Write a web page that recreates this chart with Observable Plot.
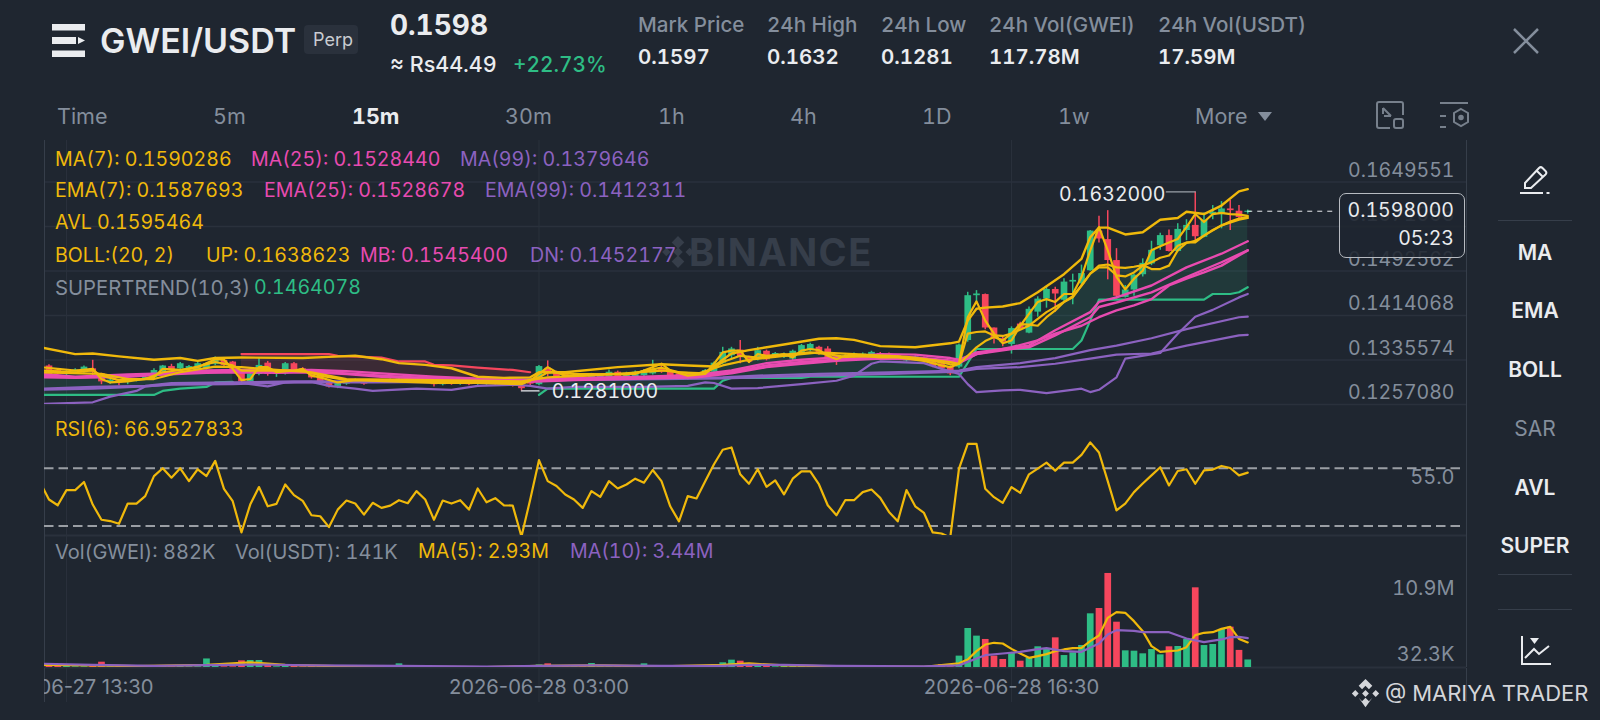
<!DOCTYPE html>
<html><head><meta charset="utf-8">
<script src="https://cdn.jsdelivr.net/npm/d3@7"></script>
<script src="https://cdn.jsdelivr.net/npm/@observablehq/plot@0.6"></script>
<style>
html,body{margin:0;padding:0;background:#1f2630;}
#app{position:relative;width:1600px;height:720px;overflow:hidden;background:#1f2630;font-family:Inter,"Noto Sans",sans-serif;font-variant-numeric:tabular-nums;}
#app>.t{position:absolute;white-space:nowrap;transform:translateY(-50%);line-height:1;}
#app>svg,#app>figure{position:absolute;margin:0;}
</style></head><body><div id="app"></div>
<script>
// ---- candles, index k = -111 … 27 (15m bars, k = 0 is 2026-06-28 16:30)
const opens=[.1323,.1325,.1317,.1310,.1314,.1314,.1320,.1311,.1296,.1299,
.1296,.1299,.1303,.1304,.1314,.1324,.1320,.1320,.1318,.1320,
.1328,.1335,.1332,.1317,.1297,.1310,.1330,.1310,.1311,.1329,
.1320,.1314,.1304,.1296,.1289,.1293,.1298,.1297,.1297,.1297,
.1296,.1299,.1302,.1297,.1297,.1296,.1292,.1296,.1293,.1296,
.1293,.1293,.1296,.1293,.1296,.1290,.1302,.1292,.1321,.1314,
.1311,.1302,.1305,.1304,.1304,.1305,.1314,.1305,.1305,.1308,
.1311,.1320,.1317,.1311,.1308,.1304,.1306,.1314,.1330,.1343,
.1353,.1340,.1337,.1351,.1340,.1340,.1337,.1346,.1352,.1358,
.1355,.1341,.1336,.1340,.1341,.1343,.1347,.1346,.1343,.1334,
.1336,.1339,.1332,.1329,.1323,.1323,.1370,.1449,.1451,.1392,
.1373,.1363,.1399,.1383,.1420,.1443,.1460,.1441,.1473,.1470,
.1493,.1563,.1548,.1511,.1446,.1459,.1486,.1505,.1537,.1555,
.1527,.1564,.1573,.1552,.1592,.1592,.1602,.1598,.1596];
const closes=[.1311,.1308,.1311,.1314,.1318,.1323,.1314,.1297,.1300,.1295,
.1300,.1302,.1305,.1317,.1325,.1317,.1329,.1324,.1329,.1329,
.1337,.1326,.1317,.1297,.1311,.1326,.1310,.1314,.1329,.1317,
.1314,.1304,.1296,.1288,.1295,.1297,.1300,.1293,.1300,.1300,
.1300,.1302,.1299,.1300,.1302,.1292,.1296,.1293,.1296,.1292,
.1296,.1297,.1293,.1296,.1290,.1285,.1293,.1324,.1311,.1305,
.1304,.1306,.1301,.1308,.1308,.1314,.1306,.1312,.1314,.1317,
.1319,.1314,.1308,.1305,.1302,.1308,.1317,.1330,.1349,.1355,
.1340,.1332,.1352,.1336,.1347,.1346,.1351,.1361,.1363,.1346,
.1337,.1335,.1343,.1346,.1346,.1349,.1341,.1341,.1339,.1337,
.1341,.1334,.1324,.1320,.1311,.1362,.1449,.1452,.1392,.1373,
.1367,.1391,.1391,.1425,.1443,.1460,.1452,.1473,.1476,.1488,
.1563,.1549,.1511,.1448,.1459,.1485,.1506,.1529,.1555,.1527,
.1566,.1573,.1553,.1582,.1596,.1602,.1599,.1587,.1598];
const highs=[.1325,.1327,.1319,.1317,.1320,.1325,.1335,.1312,.1301,.1300,
.1301,.1303,.1306,.1320,.1326,.1328,.1331,.1326,.1331,.1331,
.1341,.1337,.1333,.1318,.1313,.1339,.1333,.1316,.1331,.1331,
.1322,.1316,.1305,.1297,.1296,.1298,.1302,.1299,.1301,.1301,
.1302,.1303,.1303,.1301,.1303,.1297,.1297,.1297,.1297,.1297,
.1297,.1298,.1297,.1297,.1297,.1291,.1305,.1326,.1334,.1316,
.1313,.1307,.1306,.1312,.1310,.1318,.1316,.1314,.1316,.1319,
.1335,.1329,.1319,.1313,.1310,.1310,.1319,.1332,.1358,.1358,
.1370,.1342,.1358,.1353,.1349,.1348,.1353,.1363,.1365,.1360,
.1359,.1343,.1345,.1348,.1348,.1351,.1349,.1348,.1345,.1339,
.1343,.1341,.1333,.1330,.1325,.1364,.1455,.1458,.1452,.1392,
.1376,.1394,.1402,.1429,.1447,.1464,.1464,.1479,.1487,.1503,
.1564,.1589,.1599,.1532,.1467,.1487,.1514,.1545,.1559,.1565,
.1576,.1583,.1632,.1595,.1608,.1615,.1617,.1608,.1600];
const lows=[.1308,.1306,.1309,.1308,.1312,.1312,.1308,.1292,.1293,.1290,
.1292,.1297,.1301,.1302,.1312,.1315,.1318,.1318,.1316,.1318,
.1326,.1324,.1315,.1295,.1295,.1308,.1307,.1305,.1309,.1315,
.1312,.1302,.1294,.1286,.1285,.1291,.1296,.1291,.1295,.1295,
.1294,.1297,.1297,.1295,.1295,.1288,.1290,.1291,.1291,.1290,
.1291,.1291,.1291,.1291,.1288,.1281,.1290,.1290,.1306,.1303,
.1302,.1300,.1299,.1302,.1302,.1303,.1304,.1303,.1303,.1306,
.1309,.1312,.1306,.1303,.1300,.1302,.1304,.1312,.1328,.1337,
.1329,.1330,.1334,.1334,.1338,.1338,.1334,.1344,.1350,.1344,
.1335,.1326,.1334,.1338,.1339,.1341,.1339,.1339,.1337,.1332,
.1334,.1332,.1322,.1318,.1308,.1320,.1367,.1435,.1389,.1364,
.1359,.1346,.1388,.1382,.1411,.1427,.1420,.1438,.1433,.1467,
.1492,.1542,.1477,.1443,.1445,.1448,.1482,.1502,.1529,.1526,
.1526,.1546,.1546,.1551,.1583,.1567,.1564,.1582,.1593];
const volumes=[.3,.47,.27,.23,.08,.08,.2,.62,.08,.23,
.08,.08,.08,.12,.12,.08,.12,.08,.08,1.0,
.2,.08,.08,.78,.82,.82,.23,.08,.23,.35,
.08,.15,.08,.15,.08,.08,.08,.15,.08,.08,
.08,.43,.08,.08,.08,.08,.06,.06,.06,.06,
.06,.06,.06,.06,.06,.06,.06,.3,.43,.08,
.08,.08,.08,.47,.08,.08,.08,.08,.08,.43,
.08,.12,.08,.08,.08,.08,.08,.08,.55,.86,
.74,.23,.31,.35,.08,.23,.23,.23,.08,.2,
.16,.2,.08,.08,.06,.06,.06,.06,.06,.06,
.06,.06,.06,.35,.08,1.33,4.56,3.67,3.28,1.33,
.94,1.64,.74,1.13,2.42,2.18,3.47,1.4,1.72,2.57,
6.28,6.9,11,5.3,1.95,1.91,1.6,2.1,1.48,2.42,
2.46,3.28,9.32,2.57,2.69,4.45,4.72,2.0,.882];
const rsi=[60,48.4,44.4,54.9,54.9,60.5,44.9,34.4,33.5,31.6,
45.6,45.6,50.7,64.6,70,63.5,70,61.1,69.3,64.6,
75.1,55.8,47.2,25.6,44.9,57,43.7,45.4,58.8,51.4,
47.4,37.5,36.8,29.3,41.4,47.7,45.6,37.9,46.1,42.6,
44.2,47.9,45.8,54.2,48.4,34.4,47.7,45.6,47.9,41.4,
56,46.5,49.3,44.4,44.2,22.8,48.4,75.6,61.1,57.7,
51.9,48.4,42.6,54.2,50.2,61.1,56,58.8,62.8,60,
68.8,61.1,43.7,33.3,50.7,49.1,61.1,72.8,82.8,84.4,
65.8,59.3,69.3,57.2,61.6,51.9,62.8,67.9,67.9,58.8,
44.4,37.5,47.9,47.9,53.5,55.3,49.5,39.8,33.3,54.9,
43.7,39.1,25.6,24.9,22.1,69.7,86.9,86.9,55.8,50,
46.1,57,53,65.8,69.7,73.9,68.4,73.9,73.9,79.3,
87.9,80.9,61.1,40.9,45.6,53.5,59.5,65.1,70.7,58.1,
68.1,69.3,59.3,68.6,69.1,71.6,70.2,65.1,66.95];
// ---- indicator lines, read at their visible vertices: [k, value]
const bollUp=[[-111,.1358],[-107,.1346],[-105,.1347],[-102,.1342],[-98,.1336],[-95,.1339],[-93,.1334],[-91,.1339],[-88,.1340],[-81,.1339],[-78,.1341],[-75,.1343],[-72,.1337],[-70,.1330],[-67,.1327],[-64,.1321],[-61,.1306],[-58,.1304],[-55,.1305],[-54,.1314],[-51,.1314],[-45,.1323],[-40,.1328],[-37,.1326],[-34,.1324],[-33,.1336],[-32,.1347],[-30,.1353],[-26,.1363],[-22,.1373],[-20,.1374],[-18,.1371],[-15,.1360],[-11,.1358],[-7,.1365],[-6,.1368],[-5,.1405],[-4,.1426],[-3,.1428],[-1,.1430],[1,.1436],[3,.1455],[6,.1487],[8,.1514],[9,.1552],[10,.1569],[11,.1569],[13,.1557],[15,.1561],[17,.1583],[19,.1586],[20,.1597],[22,.1593],[24,.1608],[26,.1633],[27,.1637]];
const ma7=[[-111,.1323],[-109,.1320],[-107,.1317],[-105,.1320],[-104,.1302],[-103,.1296],[-101,.1298],[-98,.1305],[-97,.1320],[-95,.1318],[-93,.1323],[-91,.1337],[-90,.1336],[-89,.1320],[-88,.1300],[-87,.1302],[-86,.1323],[-85,.1323],[-84,.1314],[-82,.1317],[-81,.1320],[-80,.1308],[-79,.1305],[-77,.1296],[-75,.1300],[-66,.1295],[-61,.1295],[-56,.1293],[-55,.1299],[-54,.1311],[-53,.1323],[-52,.1314],[-51,.1308],[-49,.1308],[-46,.1311],[-43,.1311],[-42,.1317],[-40,.1329],[-39,.1317],[-37,.1308],[-35,.1311],[-34,.1329],[-33,.1349],[-32,.1352],[-31,.1352],[-30,.1332],[-29,.1346],[-28,.1343],[-26,.1346],[-25,.1340],[-24,.1352],[-23,.1355],[-22,.1353],[-21,.1343],[-20,.1337],[-19,.1343],[-17,.1343],[-15,.1340],[-13,.1340],[-10,.1334],[-8,.1326],[-7,.1323],[-6,.1329],[-5,.1411],[-4,.1439],[-3,.1405],[-2,.1382],[-1,.1365],[0,.1370],[1,.1396],[2,.1417],[3,.1438],[4,.1443],[5,.1438],[6,.1452],[7,.1452],[8,.1482],[9,.1529],[10,.1570],[11,.1529],[12,.1482],[13,.1460],[14,.1479],[15,.1493],[16,.1529],[17,.1536],[18,.1543],[19,.1549],[20,.1570],[21,.1593],[22,.1579],[23,.1593],[24,.1595],[25,.1593],[26,.1592],[27,.1590]];
const ema7=[[-111,.1317],[-107,.1314],[-105,.1317],[-104,.1308],[-102,.1300],[-99,.1302],[-97,.1314],[-94,.1320],[-91,.1332],[-89,.1326],[-88,.1317],[-86,.1317],[-84,.1317],[-81,.1317],[-79,.1308],[-76,.1300],[-70,.1300],[-66,.1297],[-60,.1296],[-56,.1295],[-54,.1305],[-53,.1314],[-50,.1311],[-44,.1310],[-40,.1322],[-38,.1314],[-35,.1312],[-33,.1332],[-31,.1343],[-29,.1340],[-26,.1345],[-23,.1349],[-21,.1346],[-19,.1341],[-14,.1343],[-10,.1337],[-7,.1328],[-6,.1329],[-5,.1382],[-4,.1385],[-3,.1386],[-2,.1379],[-1,.1378],[0,.1382],[1,.1399],[2,.1398],[3,.1396],[4,.1411],[5,.1423],[6,.1438],[7,.1446],[8,.1467],[9,.1488],[10,.1502],[11,.1504],[12,.1499],[13,.1498],[14,.1500],[15,.1503],[16,.1496],[17,.1496],[18,.1502],[19,.1529],[20,.1542],[21,.1546],[22,.1555],[23,.1565],[24,.1573],[25,.1580],[26,.1585],[27,.1588]];
const avl=[[-111,.1314],[-104,.1311],[-101,.1302],[-98,.1302],[-95,.1314],[-91,.1324],[-88,.1323],[-84,.1318],[-80,.1314],[-76,.1302],[-66,.1300],[-56,.1298],[-53,.1305],[-46,.1310],[-40,.1317],[-36,.1311],[-33,.1326],[-30,.1336],[-26,.1343],[-22,.1349],[-18,.1346],[-12,.1341],[-7,.1332],[-6,.1329],[-5,.1343],[-4,.1358],[-3,.1369],[-2,.1376],[-1,.1370],[0,.1382],[2,.1396],[4,.1420],[6,.1438],[7,.1448],[8,.1467],[9,.1488],[10,.1499],[11,.1499],[12,.1485],[13,.1483],[14,.1490],[15,.1502],[16,.1508],[17,.1516],[18,.1520],[19,.1537],[20,.1543],[21,.1543],[22,.1555],[24,.1573],[26,.1583],[27,.1586]];
const mb=[[-111,.1311],[-107,.1306],[-101,.1310],[-97,.1312],[-92,.1317],[-88,.1318],[-84,.1317],[-80,.1318],[-76,.1316],[-72,.1312],[-66,.1306],[-60,.1302],[-55,.1300],[-50,.1304],[-42,.1306],[-36,.1309],[-32,.1317],[-28,.1330],[-24,.1336],[-20,.1340],[-15,.1346],[-11,.1345],[-7,.1339],[-6,.1336],[-4,.1349],[0,.1357],[2,.1361],[5,.1388],[9,.1420],[10,.1438],[12,.1446],[16,.1467],[20,.1499],[24,.1523],[27,.1545]];
const ma25=[[-111,.1308],[-107,.1305],[-101,.1308],[-97,.1311],[-92,.1315],[-88,.1315],[-84,.1315],[-80,.1316],[-76,.1312],[-72,.1308],[-66,.1303],[-60,.1299],[-55,.1298],[-50,.1301],[-42,.1304],[-36,.1306],[-32,.1314],[-28,.1326],[-24,.1332],[-20,.1336],[-15,.1341],[-11,.1340],[-7,.1335],[-6,.1332],[-4,.1346],[0,.1355],[2,.1358],[5,.1379],[9,.1411],[10,.1429],[12,.1437],[16,.1455],[20,.1482],[24,.1508],[27,.1529]];
const ema25=[[-111,.1305],[-107,.1304],[-101,.1306],[-97,.1310],[-92,.1313],[-88,.1314],[-84,.1313],[-80,.1314],[-76,.1311],[-72,.1306],[-66,.1302],[-60,.1298],[-55,.1297],[-50,.1300],[-42,.1303],[-36,.1305],[-32,.1312],[-28,.1323],[-24,.1329],[-20,.1334],[-15,.1338],[-11,.1337],[-7,.1332],[-6,.1330],[-4,.1346],[0,.1358],[3,.1370],[5,.1382],[8,.1396],[10,.1411],[12,.1423],[14,.1432],[16,.1443],[18,.1467],[20,.1479],[22,.1490],[24,.1502],[27,.1529]];
const ma99=[[-111,.1283],[-105,.1285],[-99,.1289],[-96,.1292],[-89,.1293],[-82,.1296],[-73,.1296],[-65,.1297],[-54,.1300],[-45,.1301],[-33,.1303],[-29,.1305],[-22,.1308],[-14,.1311],[-6,.1315],[-4,.1320],[1,.1323],[5,.1329],[9,.1338],[12,.1345],[16,.1347],[20,.1361],[26,.1379],[27,.1380]];
const ema99=[[-111,.1285],[-105,.1288],[-99,.1290],[-96,.1295],[-89,.1296],[-82,.1298],[-73,.1298],[-65,.1299],[-54,.1302],[-45,.1304],[-33,.1305],[-29,.1308],[-22,.1311],[-14,.1314],[-6,.1317],[-4,.1323],[1,.1330],[5,.1339],[9,.1353],[12,.1361],[16,.1374],[20,.1390],[26,.1411],[27,.1412]];
const dn=[[-111,.1258],[-105,.1261],[-103,.1271],[-100,.1281],[-99,.1289],[-96,.1293],[-92,.1295],[-88,.1295],[-85,.1289],[-83,.1296],[-80,.1297],[-78,.1290],[-75,.1285],[-73,.1281],[-68,.1285],[-64,.1283],[-61,.1290],[-57,.1292],[-55,.1290],[-53,.1285],[-50,.1288],[-42,.1288],[-37,.1290],[-35,.1296],[-34,.1295],[-32,.1285],[-29,.1286],[-24,.1293],[-20,.1299],[-18,.1308],[-16,.1329],[-15,.1333],[-10,.1330],[-8,.1320],[-6,.1311],[-5,.1293],[-4,.1279],[-1,.1282],[1,.1283],[4,.1277],[8,.1285],[9,.1279],[10,.1283],[12,.1305],[13,.1338],[17,.1348],[19,.1382],[21,.1412],[23,.1424],[26,.1446],[27,.1452]];
const superUp1=[[-111,.1274],[-98,.1274],[-97,.1281],[-95,.1285],[-92,.1288],[-91,.1296],[-89,.1297]];
const superDown=[[-88,.1346],[-78,.1346],[-77,.1343],[-72,.1340],[-70,.1333],[-67,.1333],[-66,.1327],[-64,.1326],[-61,.1322],[-57,.1318],[-55,.1314]];
const superUp2=[[-54,.1274],[-53,.1285],[-34,.1285],[-33,.1299],[-32,.1304],[-24,.1304],[-23,.1306],[-6,.1306],[-4,.1355],[7,.1355],[8,.1370],[9,.1405],[10,.1442],[22,.1442],[23,.1452],[25,.1452],[26,.1455],[27,.1464]];
const volMa5=[[-111,.3],[-105,.25],[-100,.15],[-92,.3],[-87,.6],[-83,.3],[-75,.1],[-60,.06],[-54,.18],[-47,.24],[-40,.12],[-33,.3],[-30,.48],[-26,.25],[-20,.14],[-10,.08],[-6,.5],[-5,.94],[-4,1.91],[-3,2.69],[-2,2.89],[-1,2.81],[0,2.18],[1,1.64],[2,1.13],[3,1.33],[4,1.56],[5,1.91],[6,2.11],[7,2.26],[8,2.3],[9,3.08],[10,3.74],[11,5.81],[12,6.47],[13,6.4],[14,5.42],[15,4.25],[16,2.5],[17,1.83],[18,1.91],[19,1.99],[20,2.38],[21,3.78],[22,4.06],[23,4.13],[24,4.52],[25,4.76],[26,3.35],[27,2.93]];
const volMa10=[[-111,.45],[-105,.3],[-98,.2],[-92,.28],[-86,.35],[-80,.25],[-70,.18],[-60,.1],[-54,.2],[-48,.24],[-40,.2],[-33,.2],[-30,.32],[-26,.3],[-20,.18],[-10,.12],[-6,.25],[-4,1.05],[-3,1.44],[-1,1.64],[1,1.83],[3,2.15],[4,2.26],[6,1.91],[8,1.83],[10,2.81],[11,3.86],[12,4.37],[14,4.29],[15,4.13],[18,4.13],[20,3.39],[22,2.96],[24,3.28],[25,3.55],[26,3.59],[27,3.44]];
// ---- axis values and labels
const priceTicks=[.1649551,.1571056,.1492562,.1414068,.1335574,.1257080];
const timeTicks=[-108,-54,0];
const rsiLevels=[70,30];
const firstBar=-111, lastPrice=.1598, highPrice=.1632, lowPrice=.1281;

const C={bg:"#1f2630",grid:"#2a313c",border:"#363e4a",mute:"#848e9c",text:"#eaecef",yellow:"#f0b90b",pink:"#e84bb0",purple:"#8c62c0",green:"#2ebd85",red:"#f6465d"};
const FONT='Inter,"Noto Sans",sans-serif';
const app=document.getElementById("app");
const T0=Date.UTC(2026,5,28,16,30);
const t=k=>new Date(T0+k*9e5);
const domainX=[t(-110.51),t(52)];
const ks=d3.range(opens.length).map(i=>i+firstBar);
const bars=ks.map((k,i)=>({k,d:t(k),o:opens[i],c:closes[i],h:highs[i],l:lows[i],v:volumes[i],r:rsi[i],col:closes[i]>=opens[i]?C.green:C.red}));
const fmtTime=d3.utcFormat("%Y-%m-%d %H:%M");
const TN="tabular-nums";

function put(text,x,y,size,color,weight,extra){
  const e=document.createElement("div");e.className="t";e.textContent=text;
  e.style.cssText=`left:${x}px;top:${y}px;font-size:${size}px;color:${color};font-weight:${weight||400};`+(extra||"");
  app.appendChild(e);return e;
}
function html(s){const w=document.createElement("div");w.innerHTML=s;const n=w.firstElementChild;app.appendChild(n);return n;}
function panel(top,height,yDomain,marks){
  const p=Plot.plot({width:1600,height,marginTop:0,marginLeft:44,marginRight:134,marginBottom:1,
    x:{type:"utc",domain:domainX,axis:null},y:{domain:yDomain,axis:null},
    style:{background:"transparent",overflow:"visible",fontFamily:FONT},marks});
  p.style.position="absolute";p.style.left="0";p.style.top=top+"px";p.style.maxWidth="none";
  app.appendChild(p);return p;
}
const vertical=[Plot.ruleX(timeTicks.map(t),{stroke:C.grid,strokeWidth:1}),Plot.ruleX(domainX,{stroke:C.border,strokeWidth:1})];
const ln=(data,stroke,w,extra)=>Plot.line(data,{x:d=>t(d[0]),y:d=>d[1],stroke,strokeWidth:w||2.2,clip:true,...extra});

// watermark, under the panels
html(`<svg style="left:660px;top:234px" width="36" height="36" viewBox="0 0 34 34" fill="#363e4a"><path d="M17 2l6 6-6 6-6-6zM6 13l4 4-4 4-4-4zM28 13l4 4-4 4-4-4zM17 12.5l4.500 4.500-4.500 4.500-4.500-4.500zM17 20l6 6-6 6-6-6z"/></svg>`);
put("BINANCE",689,252,38,"#363e4a",700,"letter-spacing:1.5px;");

// shading between supertrend and price line
const poly=pts=>d3.scaleLinear(pts.map(p=>p[0]),pts.map(p=>p[1]));
const ema7At=poly(ema7);
const cloud=(seg)=>{const f=poly(seg);return d3.range(seg[0][0],seg[seg.length-1][0]+1).map(k=>({d:t(k),a:f(k),b:ema7At(k)}));};
const area=(seg,fill)=>Plot.areaY(cloud(seg),{x:"d",y1:"a",y2:"b",fill,fillOpacity:.13,clip:true});
const label=(vals,text,dy,size)=>Plot.text(vals,{y:d=>d,frameAnchor:"right",dx:-12,dy,text,fill:C.mute,fontSize:size||20,textAnchor:"end",fontVariant:TN});

// ---- price panel
panel(140,265,[.125708,.172275],[
  Plot.ruleY(priceTicks,{stroke:C.grid,strokeWidth:1.5}),
  ...vertical,
  area(superUp1,C.green),area(superDown,C.red),area(superUp2,C.green),
  Plot.ruleX(bars,{x:"d",y1:"l",y2:"h",stroke:"col",strokeWidth:1.5,clip:true}),
  Plot.ruleX(bars,{x:"d",y1:"o",y2:"c",stroke:"col",strokeWidth:6.7,clip:true}),
  ln(superUp1,C.green),ln(superUp2,C.green),ln(superDown,C.red),
  ln(dn,C.purple),ln(ma99,C.purple),ln(ema99,C.purple),
  ln(ema25,C.pink,2.4),ln(ma25,C.pink,2.4),ln(mb,C.pink,2.4),
  ln(avl,C.yellow),ln(ema7,C.yellow),ln(ma7,C.yellow),ln(bollUp,C.yellow,2.4),
  label(priceTicks,d=>d.toFixed(7),-11.5,19.5),
  Plot.ruleY([lastPrice],{x1:t(27),x2:t(37),stroke:C.text,strokeWidth:1,strokeDasharray:"5,5"}),
  Plot.line([[21,highPrice],[17.7,highPrice]],{x:d=>t(d[0]),y:d=>d[1],stroke:"#9aa0a8",strokeWidth:1.3}),
  Plot.text([highPrice],{x:t(17.6),y:d=>d,dy:3,text:d=>d.toFixed(7),fill:C.text,fontSize:19.5,textAnchor:"end",fontVariant:TN}),
  Plot.line([[-56,lowPrice],[-54,lowPrice]],{x:d=>t(d[0]),y:d=>d[1],stroke:C.text,strokeWidth:1.3}),
  Plot.text([lowPrice],{x:t(-52.55),y:d=>d,dy:1,text:d=>d.toFixed(7),fill:C.text,fontSize:19.5,textAnchor:"start",fontVariant:TN})
]);

// ---- RSI panel
panel(404,132,[23.5,114.1],[
  Plot.ruleY([23.5],{stroke:C.grid,strokeWidth:2}),
  ...vertical,
  Plot.ruleY(rsiLevels,{x1:t(-110.51),x2:t(51.5),stroke:"#9a9ea4",strokeWidth:2,strokeDasharray:"9.5,5"}),
  Plot.line(bars,{x:"d",y:"r",stroke:C.yellow,strokeWidth:2.2,clip:true}),
  label([55],d=>d.toFixed(1),-12)
]);

// ---- volume panel
panel(535,133,[0,15.44],[
  Plot.ruleY([0],{stroke:C.grid,strokeWidth:2}),
  ...vertical,
  Plot.ruleX(bars,{x:"d",y1:0,y2:"v",stroke:"col",strokeWidth:6.7,clip:true}),
  ln(volMa5,C.yellow),ln(volMa10,C.purple),
  label([10.9],d=>d.toFixed(1)+"M",14),
  label([.0323],d=>(d*1000).toFixed(1)+"K",-13)
]);

// ---- time axis
{
  const p=Plot.plot({width:1600,height:34,marginTop:0,marginLeft:44,marginRight:134,marginBottom:0,
    x:{type:"utc",domain:domainX,axis:null},y:{axis:null},
    style:{background:"transparent",fontFamily:FONT,fontVariantNumeric:"normal"},
    marks:[...vertical,Plot.text(timeTicks.map(t),{x:d=>d,frameAnchor:"middle",dy:2.5,text:d=>fmtTime(d),fill:C.mute,fontSize:20.2,clip:true,fontVariant:"normal"})]});
  p.style.position="absolute";p.style.left="0";p.style.top="668px";p.style.maxWidth="none";app.appendChild(p);
}

// ---- header
html(`<svg style="left:52px;top:24px" width="33" height="33" viewBox="0 0 33 33" fill="#eaecef"><rect width="33" height="6.500"/><rect y="13" width="24" height="7"/><path d="M26 13l7 3.500-7 3.500z"/><rect y="26.500" width="33" height="6.500"/></svg>`);
put("GWEI/USDT",100,41,34,C.text,600);
html(`<div style="position:absolute;left:304px;top:25px;width:54px;height:29px;background:#2a313c;border-radius:4px"></div>`);
put("Perp",313,40,18,"#c9ccd1");
put("0.1598",390,25,28,C.text,700);
put("≈ Rs44.49",390,65,21.5,C.text,500);
put("+22.73%",513,65,20.8,C.green,500);
const statX=[638,767,881,989,1158], statL=["Mark Price","24h High","24h Low","24h Vol(GWEI)","24h Vol(USDT)"], statV=["0.1597","0.1632","0.1281","117.78M","17.59M"];
statL.forEach((s,i)=>{put(s,statX[i],25,20.6,C.mute,500);put(statV[i],statX[i],57,20.5,C.text,600);});
html(`<svg style="left:1513px;top:28px" width="26" height="26" viewBox="0 0 26 26" stroke="#848e9c" stroke-width="2.500" fill="none"><path d="M1 1L25 25M25 1L1 25"/></svg>`);

const tabs=[["Time",57],["5m",213],["15m",352],["30m",505],["1h",658],["4h",790],["1D",922],["1w",1058],["More",1195]];
tabs.forEach(([s,x])=>put(s,x,116.500,21.500,s==="15m"?C.text:C.mute,s==="15m"?700:400));
html(`<svg style="left:1258px;top:112px" width="14" height="9" fill="#848e9c"><path d="M0 0h14l-7 9z"/></svg>`);
html(`<svg style="left:1376px;top:101px" width="28" height="28" viewBox="0 0 28 28" fill="none" stroke="#77808c" stroke-width="2"><path d="M14 27H3a2 2 0 0 1-2-2V3a2 2 0 0 1 2-2h22a2 2 0 0 1 2 2v11M7 7l8 8M7 13V7M8 15h7"/><rect x="18" y="18" width="9" height="9" rx="2"/></svg>`);
html(`<svg style="left:1440px;top:102px" width="29" height="28" viewBox="0 0 29 28" fill="none" stroke="#77808c" stroke-width="2"><path d="M0 1h28M0 14h6M0 25h6"/><path d="M21 7l7 4v9l-7 4-7-4v-9z"/><circle cx="21" cy="15.500" r="1.800" fill="#77808c"/></svg>`);

// ---- legends
function row(y,items,size){items.forEach(([s,x,c])=>put(s,x,y,size||19.6,c,400));}
row(160,[["MA(7): 0.1590286",55,C.yellow],["MA(25): 0.1528440",251,C.pink],["MA(99): 0.1379646",460,C.purple]]);
row(191,[["EMA(7): 0.1587693",55,C.yellow],["EMA(25): 0.1528678",264,C.pink],["EMA(99): 0.1412311",485,C.purple]]);
row(223,[["AVL 0.1595464",55,C.yellow]]);
row(256,[["BOLL:(20, 2)",55,C.yellow],["UP: 0.1638623",206,C.yellow],["MB: 0.1545400",360,C.pink],["DN: 0.1452177",530,C.purple]]);
row(288,[["SUPERTREND(10,3)",55,C.mute]],20.3);
row(288,[["0.1464078",254,C.green]]);
row(430,[["RSI(6): 66.9527833",55,C.yellow]]);
row(552,[["Vol(GWEI): 882K",55,C.mute],["Vol(USDT): 141K",235,C.mute]],20);
row(552,[["MA(5): 2.93M",418,C.yellow],["MA(10): 3.44M",570,C.purple]]);

// ---- last-price tag
html(`<div style="position:absolute;left:1339px;top:193px;width:124px;height:63px;border:1px solid #b7bbc1;border-radius:7px;background:rgba(31,38,48,.88)"></div>`);
put("0.1598000",1454,211,19.5,C.text,400,"transform:translate(-100%,-50%);");
put("05:23",1454,239,19.5,C.text,400,"transform:translate(-100%,-50%);");

// ---- right tool bar
html(`<svg style="left:1520px;top:165px" width="31" height="30" viewBox="0 0 31 30" fill="none" stroke="#eaecef" stroke-width="2"><path d="M5 18L19 3a2.500 2.500 0 0 1 3.500 0l3 3a2.500 2.500 0 0 1 0 3.500L11 23H5zM17 6l6 6"/><path d="M0 28h23M26.500 28h3"/></svg>`);
const seps=[220,574,609];
seps.forEach(y=>html(`<div style="position:absolute;left:1498px;top:${y}px;width:74px;height:1px;background:#363e4a"></div>`));
[["MA",252,C.text],["EMA",310,C.text],["BOLL",369,C.text],["SAR",428,C.mute],["AVL",487,C.text],["SUPER",545,C.text]].forEach(([s,y,c])=>{
  put(s,1535,y,21,c,c===C.mute?400:600,"transform:translate(-50%,-50%);");
});
html(`<svg style="left:1520px;top:635px" width="31" height="31" viewBox="0 0 31 31" fill="none" stroke="#eaecef" stroke-width="2"><path d="M2 1v28h29"/><path d="M5 23l9-9 5 5 10-8"/><path d="M10 3h9l-4.500 6z" fill="#eaecef" stroke="none"/></svg>`);

// ---- signature
html(`<svg style="left:1351px;top:679px" width="29" height="29" viewBox="0 0 34 34" fill="#d4d6da"><path d="M17 0l8 8-4 4-4-4-4 4-4-4zM5 13l4 4-4 4-4-4zM29 13l4 4-4 4-4-4zM17 13l4 4-4 4-4-4zM9 22l4 4 4-4 4 4 4-4-8 11z"/></svg>`);
put("@ MARIYA TRADER",1385,693,22,"#d4d6da",400);
</script></body></html>
